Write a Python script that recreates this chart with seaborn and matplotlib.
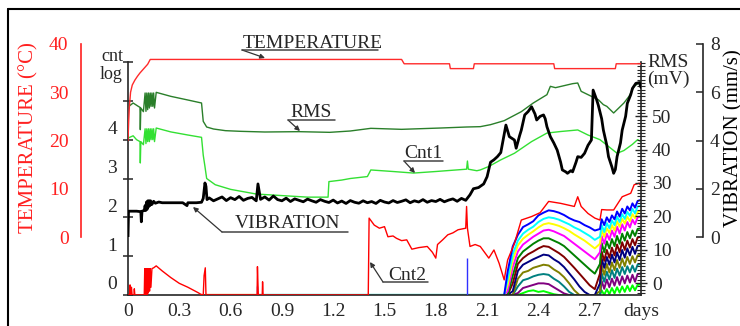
import numpy as np
import matplotlib
matplotlib.use("Agg")
import matplotlib.pyplot as plt
import seaborn as sns
from matplotlib.lines import Line2D
from matplotlib.ticker import MultipleLocator, FixedLocator

# ---------------- data ----------------
X_TICKS = [0, 0.3, 0.6, 0.9, 1.2, 1.5, 1.8, 2.1, 2.4, 2.7, 3.0]
X_TICK_LABELS = ["0", "0.3", "0.6", "0.9", "1.2", "1.5", "1.8", "2.1", "2.4", "2.7", "days"]
CNT_TICK_LABELS = ["0", "1", "2", "3", "4"]
RMS_TICKS = [0, 10, 20, 30, 40, 50]
TEMP_TICKS = [0, 10, 20, 30, 40]
VIB_TICKS = [0, 2, 4, 6, 8]

# temperature (deg C)
TEMP_X = [0.0, 0.004, 0.008, 0.015, 0.025, 0.04, 0.055, 0.07, 0.085, 0.10, 0.115, 0.13,
          1.60, 1.615, 1.88, 1.885, 2.02, 2.025, 2.49, 2.495, 2.85, 2.855, 3.0]
TEMP_Y = [20, 24, 27, 30, 31.5, 32.5, 33.3, 34.0, 34.6, 35.2, 35.8, 36.8,
          36.8, 35.9, 35.9, 34.9, 34.9, 35.9, 35.9, 34.9, 34.9, 35.9, 35.9]

# RMS (mV)
RMS_X = [0.005, 0.03, 0.06, 0.07, 0.072, 0.075, 0.09, 0.10, 0.105, 0.11, 0.115, 0.12, 0.125,
         0.13, 0.135, 0.14, 0.145, 0.15, 0.155, 0.165, 0.25, 0.35, 0.43, 0.44, 0.46, 0.50,
         0.57, 0.66, 0.80, 1.00, 1.18, 1.30, 1.42, 1.60, 1.83, 1.98, 2.06, 2.12, 2.20, 2.30,
         2.37, 2.45, 2.47, 2.50, 2.55, 2.60, 2.63, 2.65, 2.71, 2.75, 2.78, 2.80, 2.82, 2.84,
         2.87, 2.90, 2.93, 2.96, 3.00]
RMS_Y = [53.0, 54.0, 53.0, 52.7, 46.0, 52.5, 51.4, 57.0, 51.5, 57.0, 52.0, 57.0, 52.5,
         57.0, 53.0, 57.0, 53.0, 57.0, 52.5, 57.2, 56.0, 54.9, 54.0, 48.5, 46.8, 46.2,
         45.7, 45.5, 45.3, 45.4, 45.2, 45.6, 46.4, 46.1, 46.5, 46.8, 46.9, 47.5, 48.7, 51.4,
         54.0, 56.5, 59.0, 58.6, 59.2, 59.8, 60.0, 57.5, 56.0, 55.0, 53.5, 53.0, 52.0, 51.0,
         52.5, 54.0, 56.0, 59.0, 60.5]

# Cnt1 (log count)
CNT1_X = [0.005, 0.03, 0.05, 0.07, 0.072, 0.075, 0.09, 0.10, 0.105, 0.11, 0.115, 0.12, 0.125,
          0.13, 0.135, 0.14, 0.145, 0.15, 0.155, 0.165, 0.25, 0.35, 0.43, 0.44, 0.45, 0.46,
          0.51, 0.60, 0.70, 0.75, 0.90, 1.05, 1.17, 1.175, 1.25, 1.30, 1.40, 1.42, 1.55, 1.67,
          1.80, 1.98, 1.985, 1.99, 2.04, 2.06, 2.11, 2.18, 2.26, 2.36, 2.45, 2.53, 2.63, 2.69,
          2.76, 2.86, 2.90, 2.95, 2.98, 3.00]
CNT1_Y = [4.05, 4.10, 4.00, 3.95, 3.40, 3.95, 3.87, 4.28, 3.90, 4.28, 3.95, 4.28, 3.95,
          4.28, 4.00, 4.28, 4.00, 4.28, 3.95, 4.30, 4.20, 4.12, 4.06, 3.60, 3.31, 3.00,
          2.84, 2.72, 2.64, 2.60, 2.56, 2.52, 2.52, 2.92, 2.96, 3.00, 3.05, 3.22, 3.18, 3.14,
          3.18, 3.24, 3.45, 3.24, 3.20, 3.22, 3.31, 3.48, 3.65, 3.95, 4.17, 4.21, 4.25, 4.12,
          4.00, 3.65, 3.72, 3.88, 4.00, 3.95]

# Cnt2 (log count)
CNT2_X = [0.000, 0.010, 0.012, 0.016, 0.020, 0.024, 0.035, 0.037, 0.040, 0.095, 0.098, 0.102,
          0.106, 0.110, 0.114, 0.118, 0.122, 0.126, 0.130, 0.134, 0.140, 0.150, 0.165, 0.20,
          0.25, 0.30, 0.35, 0.38, 0.41, 0.425, 0.44, 0.445, 0.452, 0.456, 0.755, 0.757, 0.762,
          0.785, 0.787, 0.79, 1.405, 1.41, 1.44, 1.47, 1.50, 1.52, 1.55, 1.57, 1.60, 1.63,
          1.66, 1.70, 1.75, 1.78, 1.80, 1.81, 1.84, 1.87, 1.90, 1.93, 1.975, 1.98, 1.985,
          2.00, 2.03, 2.06, 2.11, 2.14, 2.17, 2.20, 2.21, 2.22, 2.26, 2.30, 2.36, 2.41, 2.46,
          2.53, 2.61, 2.63, 2.65, 2.69, 2.73, 2.76, 2.77, 2.80, 2.84, 2.89, 2.94, 2.96, 2.99,
          3.00]
CNT2_Y = [0.0, 0.0, 0.26, 0.0, 0.20, 0.0, 0.0, 0.16, 0.0, 0.0, 0.68, 0.0,
          0.68, 0.0, 0.68, 0.05, 0.68, 0.10, 0.68, 0.20, 0.68, 0.70, 0.75, 0.62,
          0.45, 0.30, 0.20, 0.13, 0.06, 0.02, 0.0, 0.50, 0.70, 0.0, 0.0, 0.73, 0.0,
          0.0, 0.34, 0.0, 0.0, 1.98, 1.80, 1.72, 1.76, 1.50, 1.52, 1.46, 1.40, 1.42,
          1.18, 1.22, 1.25, 1.10, 0.95, 1.30, 1.42, 1.55, 1.60, 1.68, 1.72, 2.28, 1.72,
          1.25, 1.30, 1.25, 0.95, 1.16, 0.82, 0.39, 0.65, 0.90, 1.33, 1.93, 2.02, 2.12, 2.41,
          2.36, 2.28, 2.53, 2.28, 2.10, 1.98, 1.93, 2.20, 2.19, 2.19, 2.53, 2.62, 2.84, 2.88,
          2.80]

# small blue spikes (log count)
BLUE_SPIKE_X = [0.757, 1.98]
BLUE_SPIKE_Y = [0.23, 0.95]

# vibration (mm/s)
VIB_PTS = [
    (0.000, 0.00), (0.003, 1.07), (0.050, 1.07), (0.075, 1.05), (0.078, 0.63), (0.082, 1.07),
    (0.095, 1.10), (0.100, 1.30), (0.104, 1.10), (0.108, 1.45), (0.112, 1.15), (0.116, 1.50),
    (0.120, 1.25), (0.124, 1.50), (0.128, 1.30), (0.132, 1.50), (0.140, 1.35), (0.150, 1.48),
    (0.160, 1.40), (0.180, 1.45), (0.200, 1.42), (0.240, 1.42), (0.280, 1.42), (0.320, 1.42),
    (0.345, 1.30), (0.350, 1.42), (0.360, 1.42), (0.400, 1.42), (0.430, 1.44), (0.440, 1.60),
    (0.450, 2.24), (0.456, 2.10), (0.462, 1.55),
    (0.475, 1.62), (0.500, 1.50), (0.525, 1.58), (0.550, 1.66), (0.575, 1.51), (0.600, 1.63),
    (0.625, 1.55), (0.650, 1.68), (0.675, 1.52), (0.700, 1.60), (0.725, 1.64), (0.750, 1.50),
    (0.760, 2.20), (0.775, 1.56), (0.800, 1.66), (0.825, 1.53), (0.850, 1.70), (0.875, 1.55),
    (0.900, 1.50), (0.925, 1.61), (0.950, 1.47), (0.975, 1.58), (1.000, 1.52), (1.025, 1.46),
    (1.050, 1.57), (1.075, 1.50), (1.100, 1.44), (1.125, 1.55), (1.150, 1.48), (1.175, 1.43),
    (1.200, 1.53), (1.225, 1.41), (1.250, 1.49), (1.275, 1.39), (1.300, 1.51), (1.325, 1.44),
    (1.350, 1.40), (1.375, 1.50), (1.400, 1.42), (1.425, 1.47), (1.450, 1.39), (1.475, 1.52),
    (1.500, 1.45), (1.525, 1.41), (1.550, 1.51), (1.575, 1.43), (1.600, 1.48), (1.625, 1.54),
    (1.650, 1.42), (1.675, 1.50), (1.700, 1.45), (1.725, 1.55), (1.750, 1.44), (1.775, 1.51),
    (1.800, 1.47), (1.825, 1.56), (1.850, 1.46), (1.875, 1.53), (1.900, 1.58), (1.925, 1.48),
    (1.950, 1.60), (1.975, 1.52),
    (2.000, 1.75), (2.020, 2.00), (2.050, 2.05), (2.080, 2.20), (2.100, 2.50), (2.120, 3.10),
    (2.140, 3.20), (2.160, 3.33), (2.180, 3.50), (2.190, 3.88), (2.210, 4.64), (2.230, 4.16),
    (2.260, 4.02), (2.270, 3.68), (2.290, 4.20), (2.300, 4.43), (2.320, 5.06), (2.340, 5.20),
    (2.360, 5.40), (2.380, 5.10), (2.390, 4.85), (2.410, 5.00), (2.430, 5.06), (2.440, 4.90),
    (2.450, 4.57), (2.470, 4.16), (2.490, 3.90), (2.510, 3.60), (2.530, 3.10), (2.540, 2.78),
    (2.560, 2.70), (2.570, 2.64), (2.590, 2.75), (2.600, 2.70), (2.620, 3.10), (2.630, 3.33),
    (2.650, 3.30), (2.670, 3.47), (2.690, 3.80), (2.710, 4.02), (2.715, 5.00), (2.720, 6.09),
    (2.740, 5.70), (2.750, 5.47), (2.770, 4.90), (2.780, 4.43), (2.800, 3.80), (2.810, 3.33),
    (2.830, 2.90), (2.840, 2.64), (2.850, 2.80), (2.860, 3.33), (2.880, 3.90), (2.890, 4.43),
    (2.910, 5.00), (2.920, 5.54), (2.940, 5.90), (2.950, 6.16), (2.970, 6.37), (2.990, 6.40),
    (3.000, 6.20),
]
VIB_X = [p[0] for p in VIB_PTS]
VIB_Y = [p[1] for p in VIB_PTS]

# higher-threshold counters (log count), common day grid
C_X = [2.20, 2.22, 2.25, 2.28, 2.31, 2.34, 2.37, 2.40, 2.43, 2.46, 2.49, 2.52, 2.55, 2.58, 2.61,
       2.64, 2.67, 2.70, 2.73, 2.76,
       2.770, 2.785, 2.800, 2.815, 2.830, 2.845, 2.860, 2.875, 2.890, 2.905, 2.920, 2.935,
       2.950, 2.965, 2.980, 3.000]
C_BLUE = [0, 0.60, 1.25, 1.55, 1.75, 1.82, 1.90, 2.05, 2.12, 2.18, 2.16, 2.12, 2.06, 1.98, 1.92,
          1.88, 1.80, 1.74, 1.66, 1.70,
          1.95, 1.80, 2.00, 1.88, 2.05, 1.95, 2.15, 2.02, 2.22, 2.10, 2.28, 2.18, 2.36, 2.25, 2.42, 2.45]
C_CYAN = [0, 0.40, 1.05, 1.40, 1.58, 1.68, 1.76, 1.88, 1.96, 2.00, 1.98, 1.94, 1.88, 1.82, 1.74,
          1.68, 1.60, 1.52, 1.42, 1.50,
          1.80, 1.62, 1.85, 1.72, 1.92, 1.80, 2.02, 1.88, 2.08, 1.96, 2.14, 2.04, 2.22, 2.10, 2.28, 2.30]
C_YELLOW = [0, 0.25, 0.90, 1.28, 1.45, 1.55, 1.64, 1.74, 1.82, 1.85, 1.82, 1.78, 1.72, 1.65, 1.56,
            1.48, 1.40, 1.30, 1.20, 1.32,
            1.68, 1.50, 1.72, 1.60, 1.80, 1.66, 1.90, 1.76, 1.96, 1.84, 2.02, 1.90, 2.08, 1.98, 2.14, 2.18]
C_MAGENTA = [0, 0.10, 0.72, 1.12, 1.30, 1.40, 1.50, 1.58, 1.66, 1.68, 1.64, 1.58, 1.52, 1.42, 1.32,
             1.22, 1.12, 1.02, 0.92, 1.10,
             1.52, 1.32, 1.58, 1.42, 1.66, 1.50, 1.76, 1.58, 1.82, 1.66, 1.88, 1.74, 1.94, 1.82, 2.00, 2.02]
C_GREEN = [0, 0, 0.50, 0.95, 1.12, 1.22, 1.32, 1.40, 1.46, 1.46, 1.40, 1.34, 1.26, 1.14, 1.02,
           0.90, 0.78, 0.66, 0.55, 0.80,
           1.34, 1.10, 1.38, 1.20, 1.44, 1.26, 1.52, 1.32, 1.58, 1.40, 1.62, 1.46, 1.66, 1.52, 1.70, 1.72]
C_MAROON = [0, 0, 0.30, 0.80, 0.95, 1.05, 1.12, 1.20, 1.26, 1.24, 1.16, 1.08, 0.98, 0.84, 0.70,
            0.55, 0.40, 0.25, 0.15, 0.55,
            1.12, 0.88, 1.16, 0.96, 1.22, 1.02, 1.30, 1.10, 1.36, 1.16, 1.40, 1.22, 1.44, 1.28, 1.48, 1.50]
C_NAVY = [0, 0, 0.10, 0.62, 0.78, 0.85, 0.92, 0.98, 1.04, 1.02, 0.92, 0.84, 0.72, 0.56, 0.40,
          0.22, 0.08, 0.0, 0.0, 0.30,
          0.94, 0.70, 0.98, 0.78, 1.04, 0.84, 1.10, 0.90, 1.16, 0.96, 1.20, 1.02, 1.24, 1.06, 1.26, 1.28]
C_OLIVE = [0, 0, 0, 0.42, 0.58, 0.62, 0.70, 0.74, 0.78, 0.76, 0.66, 0.58, 0.46, 0.30, 0.12,
           0.0, 0.0, 0.0, 0.0, 0.10,
           0.76, 0.52, 0.80, 0.58, 0.84, 0.64, 0.90, 0.70, 0.94, 0.74, 0.98, 0.80, 1.00, 0.84, 1.02, 1.04]
C_TEAL = [0, 0, 0, 0.22, 0.38, 0.42, 0.48, 0.52, 0.54, 0.52, 0.42, 0.34, 0.22, 0.08, 0.0,
          0.0, 0.0, 0.0, 0.0, 0.0,
          0.56, 0.34, 0.60, 0.40, 0.64, 0.44, 0.68, 0.50, 0.72, 0.54, 0.74, 0.58, 0.76, 0.60, 0.78, 0.80]
C_PURPLE = [0, 0, 0, 0.05, 0.18, 0.22, 0.26, 0.30, 0.30, 0.28, 0.20, 0.12, 0.04, 0.0, 0.0,
            0.0, 0.0, 0.0, 0.0, 0.0,
            0.36, 0.16, 0.40, 0.20, 0.42, 0.24, 0.46, 0.26, 0.48, 0.30, 0.50, 0.32, 0.52, 0.34, 0.54, 0.55]
C_LIME = [0, 0, 0, 0.0, 0.05, 0.10, 0.12, 0.08, 0.10, 0.06, 0.02, 0.0, 0.0, 0.0, 0.0,
          0.0, 0.0, 0.0, 0.0, 0.0,
          0.12, 0.0, 0.15, 0.02, 0.18, 0.04, 0.20, 0.06, 0.22, 0.08, 0.24, 0.10, 0.25, 0.12, 0.26, 0.28]

# ---------------- style ----------------
sns.set_style("white")
plt.rcParams["font.family"] = ["Liberation Serif", "DejaVu Serif"]
plt.rcParams["axes.linewidth"] = 1.2

W, H = 740, 326
fig = plt.figure(figsize=(W / 100, H / 100), dpi=100)
fig.patch.set_facecolor("white")


def fx(px):
    return px / W


def fy(py):
    return 1 - py / H


FS = 14
L0, R0 = 128, 641       # plot area x pixels
TOP, BOT = 62, 295      # cnt/RMS axes y pixels
T_TOP, T_BOT = 44, 237  # temperature / vibration scales
PT = 0.72               # points per pixel at 100 dpi

ax = fig.add_axes([fx(L0), fy(BOT), (R0 - L0) / W, (BOT - TOP) / H])
ax_r = ax.twinx()
ax_t = fig.add_axes([fx(L0), fy(T_BOT), (R0 - L0) / W, (T_BOT - T_TOP) / H])
ax_v = fig.add_axes([fx(L0), fy(T_BOT), (R0 - L0) / W, (T_BOT - T_TOP) / H])


def line(axis, x, y, color, lw=1.0, z=2):
    sns.lineplot(x=np.asarray(x, float), y=np.asarray(y, float), ax=axis, color=color,
                 linewidth=lw, estimator=None, sort=False, legend=False, zorder=z)


# --- counters on log axis ---
BASE_X1 = [0.45, 0.76]
BASE_X2 = [0.76, 2.20]
line(ax, BASE_X1, [0.02, 0.02], "#e0a050", 1.0)
line(ax, BASE_X2, [0.02, 0.02], "#40d8c8", 1.0)
line(ax, CNT1_X, CNT1_Y, "#33e033", 1.0)
series = [(C_LIME, "#00ff00"), (C_PURPLE, "#800080"), (C_TEAL, "#008080"), (C_OLIVE, "#808000"),
          (C_NAVY, "#000080"), (C_MAROON, "#800000"), (C_GREEN, "#008000"),
          (C_MAGENTA, "#ff00ff"), (C_YELLOW, "#ffff00"), (C_CYAN, "#00ffff"), (C_BLUE, "#0000ff")]
for vals, col in series:
    line(ax, C_X, vals, col, 1.4)
ax.vlines(BLUE_SPIKE_X, 0, BLUE_SPIKE_Y, color="#3030ff", lw=1.0, zorder=3)
line(ax, CNT2_X, CNT2_Y, "#ff0000", 1.0, z=3)

ax.set_xlim(0, 3.0)
ax.set_ylim(0, 6)
ax.set_xticks(X_TICKS)
ax.set_xticklabels(X_TICK_LABELS)
ax.yaxis.set_major_locator(FixedLocator(list(range(7))))
ax.set_yticklabels([])
ax.set_yticks([k + 0.31 for k in range(len(CNT_TICK_LABELS))], minor=True)
ax.set_yticklabels(CNT_TICK_LABELS, minor=True)
ax.tick_params(axis="x", direction="inout", length=6, width=1.1, labelsize=FS, pad=3)
ax.tick_params(axis="y", which="major", direction="inout", length=7, width=1.1)
ax.tick_params(axis="y", which="minor", length=0, labelsize=FS, pad=8)
for s in ["top", "right"]:
    ax.spines[s].set_visible(False)
ax.set_xlabel("")
ax.set_ylabel("")

# --- RMS ---
line(ax_r, RMS_X, RMS_Y, "#2a7f2a", 1.0)
ax_r.set_ylim(-3.6, 66.3)
ax_r.set_yticks(RMS_TICKS)
ax_r.yaxis.set_minor_locator(MultipleLocator(1))
ax_r.tick_params(axis="y", which="major", direction="inout", length=8, width=1.0,
                 labelsize=FS, pad=4)
ax_r.tick_params(axis="y", which="minor", direction="inout", length=6, width=0.8)
for s in ["top", "left", "bottom"]:
    ax_r.spines[s].set_visible(False)
ax_r.set_ylabel("")

# --- temperature ---
line(ax_t, TEMP_X, TEMP_Y, "#ff2a2a", 1.0)
ax_t.set_xlim(0, 3.0)
ax_t.set_ylim(0, 40)
ax_t.patch.set_visible(False)
ax_t.set_xticks([])
ax_t.set_yticks(TEMP_TICKS)
for s in ["top", "right", "bottom"]:
    ax_t.spines[s].set_visible(False)
ax_t.spines["left"].set_position(("outward", (L0 - 81) * PT))
ax_t.spines["left"].set_color("#ff2020")
ax_t.tick_params(axis="y", direction="in", length=5, width=1.1, colors="#ff2020",
                 labelsize=FS, pad=9)
ax_t.set_xlabel("")
ax_t.set_ylabel("")

# --- vibration ---
line(ax_v, VIB_X, VIB_Y, "black", 2.0, z=4)
ax_v.set_xlim(0, 3.0)
ax_v.set_ylim(0, 8)
ax_v.patch.set_visible(False)
ax_v.set_xticks([])
ax_v.yaxis.tick_right()
ax_v.set_yticks(VIB_TICKS)
for s in ["top", "left", "bottom"]:
    ax_v.spines[s].set_visible(False)
ax_v.spines["right"].set_position(("outward", (703 - R0) * PT))
ax_v.tick_params(axis="y", direction="in", length=5, width=1.1, labelsize=FS, pad=5)
ax_v.set_xlabel("")
ax_v.set_ylabel("")

# --- axis titles ---
fig.text(fx(33), fy(138), "TEMPERATURE (°C)", rotation=90, rotation_mode="anchor",
         ha="center", va="baseline", color="#ff2020", fontsize=15)
fig.text(fx(738), fy(138), "VIBRATION (mm/s)", rotation=90, rotation_mode="anchor",
         ha="center", va="baseline", color="black", fontsize=15)
fig.text(fx(123), fy(61), "cnt", ha="right", va="baseline", fontsize=13)
fig.text(fx(123), fy(79), "log", ha="right", va="baseline", fontsize=13)
fig.text(fx(647), fy(67), "RMS", ha="left", va="baseline", fontsize=FS)
fig.text(fx(647), fy(84), "(mV)", ha="left", va="baseline", fontsize=FS)


# --- callouts ---
def callout(text, tx, base, ux0, ux1, uy, head):
    fig.text(fx(tx), fy(base), text, ha="left", va="baseline", fontsize=FS)
    fig.add_artist(Line2D([fx(ux0), fx(ux1)], [fy(uy), fy(uy)], transform=fig.transFigure,
                          color="#444444", lw=1.1))
    ax.annotate("", xy=(fx(head[0]), fy(head[1])), xytext=(fx(ux0), fy(uy)),
                xycoords="figure fraction", textcoords="figure fraction",
                arrowprops=dict(arrowstyle="-|>", color="#333333", lw=0.9,
                                mutation_scale=7, shrinkA=0, shrinkB=0))


callout("TEMPERATURE", 243, 48, 242, 378, 50, (265, 58))
callout("RMS", 290, 117, 288, 335, 120, (300, 131))
callout("Cnt1", 404, 158, 404, 443, 161, (415, 173))
callout("VIBRATION", 235, 228, 222, 348, 232, (193, 207))
callout("Cnt2", 388, 280, 383, 428, 282, (370, 262))

# --- outer frame ---
fig.add_artist(Line2D([fx(8), fx(8)], [fy(9), fy(340)], transform=fig.transFigure,
                      color="black", lw=1.5))
fig.add_artist(Line2D([fx(8), fx(760)], [fy(9), fy(9)], transform=fig.transFigure,
                      color="black", lw=1.5))

fig.savefig("out.png", dpi=100, facecolor="white")
